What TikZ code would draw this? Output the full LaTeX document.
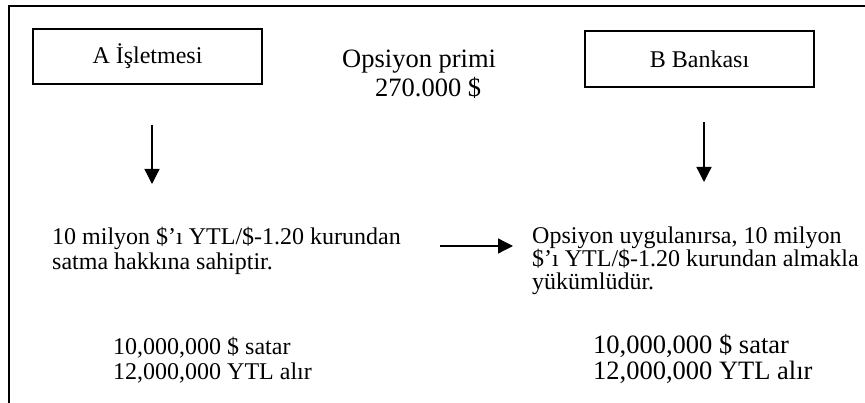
\documentclass[tikz,border=0pt]{standalone}
\usepackage{fontspec}
\setmainfont{Liberation Serif}
\usetikzlibrary{arrows.meta}
\begin{document}
\begin{tikzpicture}[x=1pt,y=-1pt,
  txt/.style={font=\fontsize{24}{24}\selectfont, inner sep=0pt, anchor=base west},
  bigtxt/.style={font=\fontsize{26.5}{26.5}\selectfont, inner sep=0pt, anchor=base west},
  party/.style={draw, line width=1.6pt, inner sep=0pt, font=\fontsize{24}{24}\selectfont},
  flow/.style={line width=1.3pt, -{Triangle[length=15pt,width=15pt]}}]
\useasboundingbox (0,0) rectangle (865,403);
% frame along the top and left
\draw[line width=2pt] (9,403) -- (9,6) -- (865,6);
% the two parties
\node[party, minimum width=229pt, minimum height=55pt] (A) at (147.5,56.5) {A İşletmesi};
\node[party, minimum width=229pt, minimum height=56pt] (B) at (699.5,59) {B Bankası};
% option premium
\node[bigtxt] (prim1) at (342,68) {Opsiyon primi};
\node[bigtxt] (prim2) at (375,97) {270.000 \$};
% rights and obligations
\node[txt] (ra1) at (52,245) {10 milyon \$’ı YTL/\$-1.20 kurundan};
\node[txt] (ra2) at (52,270) {satma hakkına sahiptir.};
\node[txt] (rb1) at (532,244) {Opsiyon uygulanırsa, 10 milyon};
\node[txt] (rb2) at (532,267) {\$’ı YTL/\$-1.20 kurundan almakla};
\node[txt] (rb3) at (532,290) {yükümlüdür.};
% resulting cash flows
\node[txt] (ca1) at (113,355) {10,000,000 \$ satar};
\node[txt] (ca2) at (113,380) {12,000,000 YTL alır};
\node[bigtxt] (cb1) at (593,353) {10,000,000 \$ satar};
\node[bigtxt] (cb2) at (593,380) {12,000,000 YTL alır};
% arrows
\coordinate (aS) at (152,125);
\coordinate (aE) at (152,184);
\coordinate (bS) at (704,122);
\coordinate (bE) at (704,182);
\coordinate (hS) at (440,246);
\coordinate (hE) at (513,246);
\draw[flow] (aS) -- (aE);
\draw[flow] (bS) -- (bE);
\draw[flow] (hS) -- (hE);
\end{tikzpicture}
\end{document}
